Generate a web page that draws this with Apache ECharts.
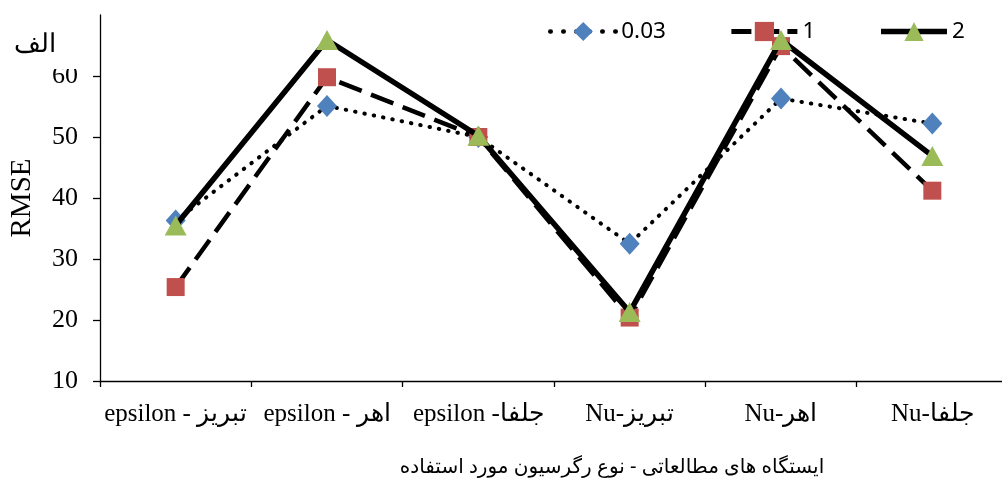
<!DOCTYPE html>
<html><head><meta charset="utf-8">
<script src="https://cdn.jsdelivr.net/npm/echarts@6/dist/echarts.min.js"></script>
<style>html,body{margin:0;padding:0;background:#fff}#c{width:1002px;height:485px}</style>
</head><body><div id="c"></div>
<script>
const categories = ["epsilon - تبریز", "epsilon - اهر", "epsilon -جلفا", "Nu-تبریز", "Nu-اهر", "Nu-جلفا"];
const seriesNames = ["0.03", "1", "2"];
const s003 = [36.3, 55.1, 50.0, 32.5, 56.3, 52.2];
const s1 = [25.4, 59.8, 50.0, 20.4, 64.9, 41.2];
const s2 = [35.5, 65.9, 50.2, 21.3, 65.9, 46.9];
const yTicks = {min: 10, max: 70, interval: 10};

const chart = echarts.init(document.getElementById('c'));
const serif = "'Liberation Serif', 'Times New Roman', serif";
const dotType = [0.5, 9], dashType = [24, 10];
chart.setOption({
  animation: false,
  backgroundColor: '#fff',
  grid: {left: 100, top: 15, bottom: 104, width: 908, containLabel: false, outerBoundsMode: 'none'},
  legend: {
    left: 543, top: 15, itemWidth: 66, itemHeight: 24, itemGap: 63,
    textStyle: {fontFamily: "'Noto Sans', sans-serif", fontSize: 22.5, color: '#000'},
    data: [
      {name: seriesNames[0], lineStyle: {width: 4.5, type: [0.5, 12.5], cap: 'round', color: '#000'}},
      {name: seriesNames[1], lineStyle: {width: 5, type: [20, 8], color: '#000'}},
      {name: seriesNames[2], lineStyle: {width: 5.5, type: 'solid', color: '#000'}}
    ]
  },
  xAxis: {
    type: 'category', data: categories, boundaryGap: true,
    axisLine: {lineStyle: {color: '#000', width: 1.3}},
    axisTick: {show: true, length: 6, lineStyle: {color: '#000', width: 1.3}},
    axisLabel: {fontFamily: serif, fontSize: 25, color: '#000', margin: 21, interval: 0}
  },
  yAxis: {
    type: 'value', min: yTicks.min, max: yTicks.max, interval: yTicks.interval,
    splitLine: {show: false},
    axisLine: {show: true, lineStyle: {color: '#000', width: 1.3}},
    axisTick: {show: true, length: 7, lineStyle: {color: '#000', width: 1.3}},
    axisLabel: {fontFamily: serif, fontSize: 26, color: '#000', margin: 22, showMaxLabel: false},
    name: 'RMSE', nameLocation: 'middle', nameGap: 63, nameRotate: 90,
    nameTextStyle: {fontFamily: serif, fontSize: 29, color: '#000'}
  },
  series: [
    {name: seriesNames[0], type: 'line', data: s003, symbol: 'diamond', symbolSize: [20, 22],
      itemStyle: {color: '#4F81BD'},
      lineStyle: {color: '#000', width: 4, type: dotType, cap: 'round'}, z: 3},
    {name: seriesNames[1], type: 'line', data: s1, symbol: 'rect', symbolSize: 18,
      itemStyle: {color: '#C0504D'},
      lineStyle: {color: '#000', width: 4.5, type: dashType}, z: 4},
    {name: seriesNames[2], type: 'line', data: s2, symbol: 'triangle', symbolSize: [22, 20],
      itemStyle: {color: '#9BBB59'},
      lineStyle: {color: '#000', width: 5.5}, z: 5}
  ],
  graphic: [{
    type: 'text', left: 10, top: 30, z: 100,
    style: {text: 'الف', fontFamily: serif, fontSize: 26, fill: '#000',
      backgroundColor: '#fff', padding: [2, 32, 11, 4]}
  }, {
    type: 'text', x: 612, y: 467, z: 100,
    style: {text: 'ایستگاه های مطالعاتی - نوع رگرسیون مورد استفاده', fontFamily: "'Noto Sans', 'DejaVu Sans', sans-serif",
      fontSize: 20, fill: '#000', align: 'center', verticalAlign: 'middle'}
  }]
});
</script></body></html>
